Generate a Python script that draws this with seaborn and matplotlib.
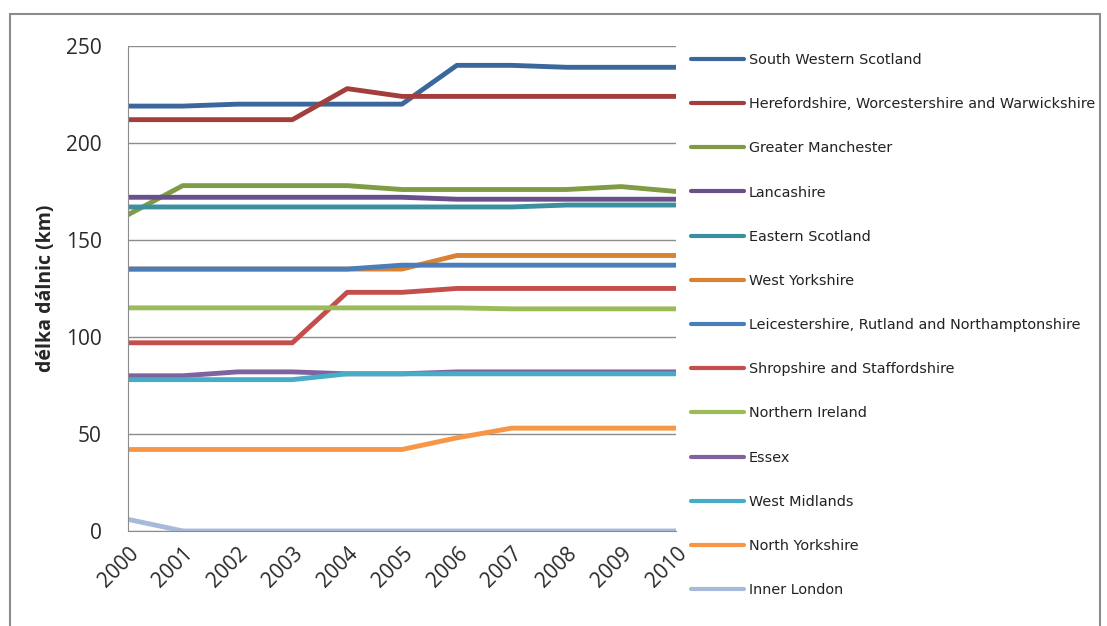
import pandas as pd
import matplotlib
matplotlib.use("Agg")
import matplotlib.pyplot as plt
import seaborn as sns
from matplotlib.patches import Rectangle

# === DATA ===
years = list(range(2000, 2011))
regions = [
    "South Western Scotland",
    "Herefordshire, Worcestershire and Warwickshire",
    "Greater Manchester",
    "Lancashire",
    "Eastern Scotland",
    "West Yorkshire",
    "Leicestershire, Rutland and Northamptonshire",
    "Shropshire and Staffordshire",
    "Northern Ireland",
    "Essex",
    "West Midlands",
    "North Yorkshire",
    "Inner London",
]
south_western_scotland = [219, 219, 220, 220, 220, 220, 240, 240, 239, 239, 239]
herefordshire = [212, 212, 212, 212, 228, 224, 224, 224, 224, 224, 224]
greater_manchester = [163, 178, 178, 178, 178, 176, 176, 176, 176, 177.5, 175]
lancashire = [172, 172, 172, 172, 172, 172, 171, 171, 171, 171, 171]
eastern_scotland = [167, 167, 167, 167, 167, 167, 167, 167, 168, 168, 168]
west_yorkshire = [135, 135, 135, 135, 135, 135, 142, 142, 142, 142, 142]
leicestershire = [135, 135, 135, 135, 135, 137, 137, 137, 137, 137, 137]
shropshire = [97, 97, 97, 97, 123, 123, 125, 125, 125, 125, 125]
northern_ireland = [115, 115, 115, 115, 115, 115, 115, 114.5, 114.5, 114.5, 114.5]
essex = [80, 80, 82, 82, 81, 81, 82, 82, 82, 82, 82]
west_midlands = [78, 78, 78, 78, 81, 81, 81, 81, 81, 81, 81]
north_yorkshire = [42, 42, 42, 42, 42, 42, 48, 53, 53, 53, 53]
inner_london = [6, 0, 0, 0, 0, 0, 0, 0, 0, 0, 0]

series = [south_western_scotland, herefordshire, greater_manchester, lancashire,
          eastern_scotland, west_yorkshire, leicestershire, shropshire,
          northern_ireland, essex, west_midlands, north_yorkshire, inner_london]

colors = ["#3B679D", "#A23E3B", "#7F9C45", "#6A4F8B", "#3A8FA1", "#D98231",
          "#4A7EBB", "#C44E4B", "#9BBB59", "#7F63A1", "#47ADC7", "#F79646",
          "#A7BAD9"]

rows = []
for name, vals in zip(regions, series):
    for y, v in zip(years, vals):
        rows.append({"rok": y, "km": v, "region": name})
df = pd.DataFrame(rows)

# === PLOT ===
sns.set_style("white")
plt.rcParams["font.family"] = ["DejaVu Sans"]

fig = plt.figure(figsize=(11.07, 6.26), dpi=100)
ax = fig.add_axes([0.1156, 0.1518, 0.4951, 0.7748])

sns.lineplot(data=df, x="rok", y="km", hue="region", hue_order=regions,
             palette=colors, linewidth=3.5, ax=ax, legend=True)

ax.set_xlim(2000, 2010)
ax.set_ylim(0, 250)
ax.set_yticks(range(0, 251, 50))
ax.set_xticks(years)
ax.set_xticklabels([str(y) for y in years], rotation=45, ha="right",
                   rotation_mode="anchor", fontsize=15, family="Open Sans")
ax.set_yticklabels([str(v) for v in range(0, 251, 50)], fontsize=15,
                   family="Open Sans")
ax.set_xlabel("")
ax.set_ylabel("délka dálnic (km)", fontsize=14, fontweight="bold",
              family="Open Sans", labelpad=7)

ax.grid(axis="y", color="#8C8C8C", linewidth=1)
ax.set_axisbelow(True)
for s in ["top", "right"]:
    ax.spines[s].set_visible(False)
ax.spines["left"].set_color("#8C8C8C")
ax.spines["bottom"].set_color("#8C8C8C")
ax.tick_params(axis="both", direction="out", length=5, color="#8C8C8C",
               width=1, colors="#2a2a2a")
ax.tick_params(axis="y", pad=14)
ax.tick_params(axis="x", pad=4)

leg = ax.legend(loc="upper left", bbox_to_anchor=(0.6243, 0.9154),
                bbox_transform=fig.transFigure, frameon=False, fontsize=10.35,
                handlelength=3.65, handletextpad=0.35, labelspacing=2.1,
                borderpad=0, borderaxespad=0)
for line in leg.get_lines():
    line.set_linewidth(3)
for t in leg.get_texts():
    t.set_color("#222222")

# outer chart border
fig.patches.append(Rectangle((10 / 1107, -0.01), 1090 / 1107, 1 - 14 / 626 + 0.01,
                             transform=fig.transFigure, fill=False,
                             edgecolor="#8C8C8C", linewidth=1.5))

fig.savefig("out.png", dpi=100)
plt.close(fig)
